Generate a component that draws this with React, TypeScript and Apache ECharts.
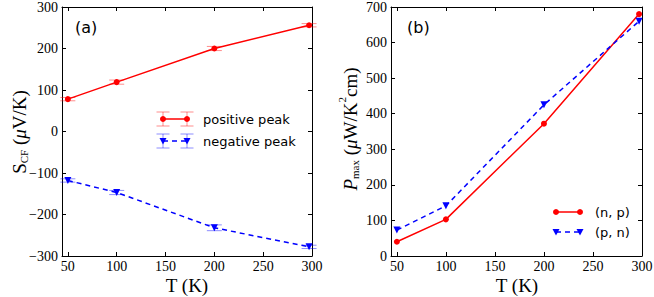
import React, { useEffect, useRef } from "react";
import * as echarts from "echarts";

const T = [50, 100, 200, 297];
const posPeak = [78, 119, 200, 256];
const posErr = [4, 5, 5, 4];
const negPeak = [-118, -147, -232, -278];
const negErr = [4, 5, 7, 4];
const pNP = [40, 103, 372, 680];
const pPN = [73, 141, 425, 660];
const xTicks = [50, 100, 150, 200, 250, 300];
const legendA = ["positive peak", "negative peak"];
const legendB = ["(n, p)", "(p, n)"];

const RED = "#ff0000";
const BLUE = "#0000ff";
const SERIF = "'Liberation Serif', serif";
const SANS = "'DejaVu Sans', sans-serif";

function minusFmt(v: number) {
  return v < 0 ? "\u2212" + Math.abs(v) : String(v);
}

function errSeries(vals: number[], errs: number[], color: string, xi: number, yi: number) {
  return {
    type: "custom",
    xAxisIndex: xi,
    yAxisIndex: yi,
    z: 1,
    silent: true,
    data: T.map((t, i) => [t, vals[i], errs[i]]),
    renderItem: (params: any, api: any) => {
      const x = api.value(0), y = api.value(1), e = api.value(2);
      const a = api.coord([x, y + e]);
      const b = api.coord([x, y - e]);
      const hw = 7.5;
      const style = { stroke: color, lineWidth: 1 };
      return {
        type: "group",
        children: [
          { type: "line", shape: { x1: a[0], y1: a[1], x2: b[0], y2: b[1] }, style },
          { type: "line", shape: { x1: a[0] - hw, y1: a[1], x2: a[0] + hw, y2: a[1] }, style },
          { type: "line", shape: { x1: b[0] - hw, y1: b[1], x2: b[0] + hw, y2: b[1] }, style },
        ],
      };
    },
  };
}

function xAxisCfg(gi: number, pos: "bottom" | "top") {
  return {
    type: "value",
    gridIndex: gi,
    position: pos,
    min: 44,
    max: 300,
    axisLine: { show: true, onZero: false, lineStyle: { color: "#000", width: 1 } },
    axisTick: { show: true, inside: true, length: 4, customValues: xTicks, lineStyle: { color: "#000" } },
    axisLabel: {
      show: pos === "bottom",
      customValues: xTicks,
      margin: 3,
      fontFamily: SERIF,
      fontSize: 14,
      color: "#000",
    },
    splitLine: { show: false },
  };
}

function yAxisCfg(gi: number, pos: "left" | "right", min: number, max: number) {
  return {
    type: "value",
    gridIndex: gi,
    position: pos,
    min,
    max,
    interval: 100,
    axisLine: { show: true, onZero: false, lineStyle: { color: "#000", width: 1 } },
    axisTick: { show: true, inside: true, length: 4, lineStyle: { color: "#000" } },
    axisLabel: {
      show: pos === "left",
      margin: 4,
      fontFamily: SERIF,
      fontSize: 14,
      color: "#000",
      formatter: minusFmt,
    },
    splitLine: { show: false },
  };
}

function tri(x: number, y: number, color: string) {
  return {
    type: "polygon",
    shape: { points: [[x - 3.5, y - 3], [x + 3.5, y - 3], [x, y + 3.5]] },
    style: { fill: color },
  };
}

function legendGraphics() {
  const g: any[] = [];
  const errStyleR = { stroke: "rgba(255,0,0,0.45)", lineWidth: 1 };
  const errStyleB = { stroke: "rgba(0,0,255,0.45)", lineWidth: 1 };
  // (a) legend
  const rows = [
    { y: 119, color: RED, es: errStyleR, dash: null as any, marker: "circle" },
    { y: 141, color: BLUE, es: errStyleB, dash: [5, 4], marker: "tri" },
  ];
  rows.forEach((r, i) => {
    [163, 187].forEach((x) => {
      g.push({ type: "line", shape: { x1: x, y1: r.y - 7, x2: x, y2: r.y + 7 }, style: r.es });
      g.push({ type: "line", shape: { x1: x - 6.5, y1: r.y - 7, x2: x + 6.5, y2: r.y - 7 }, style: r.es });
      g.push({ type: "line", shape: { x1: x - 6.5, y1: r.y + 7, x2: x + 6.5, y2: r.y + 7 }, style: r.es });
    });
    g.push({
      type: "line",
      shape: { x1: 163, y1: r.y, x2: 187, y2: r.y },
      style: { stroke: r.color, lineWidth: 1.5, lineDash: r.dash || undefined },
    });
    [163, 187].forEach((x) => {
      if (r.marker === "circle") g.push({ type: "circle", shape: { cx: x, cy: r.y, r: 3 }, style: { fill: r.color } });
      else g.push(tri(x, r.y, r.color));
    });
    g.push({
      type: "text",
      x: 203,
      y: r.y,
      style: { text: legendA[i], fontFamily: SANS, fontSize: 13, fill: "#000", align: "left", verticalAlign: "middle" },
    });
  });
  // (b) legend
  const rowsB = [
    { y: 212, color: RED, dash: null as any, marker: "circle" },
    { y: 232, color: BLUE, dash: [5, 4], marker: "tri" },
  ];
  rowsB.forEach((r, i) => {
    g.push({
      type: "line",
      shape: { x1: 556, y1: r.y, x2: 580, y2: r.y },
      style: { stroke: r.color, lineWidth: 1.5, lineDash: r.dash || undefined },
    });
    [556, 580].forEach((x) => {
      if (r.marker === "circle") g.push({ type: "circle", shape: { cx: x, cy: r.y, r: 3 }, style: { fill: r.color } });
      else g.push(tri(x, r.y, r.color));
    });
    g.push({
      type: "text",
      x: 595,
      y: r.y,
      style: { text: legendB[i], fontFamily: SANS, fontSize: 13, fill: "#000", align: "left", verticalAlign: "middle" },
    });
  });
  // panel labels
  g.push({ type: "text", x: 75, y: 27, style: { text: "(a)", fontFamily: SANS, fontSize: 16, fill: "#000", verticalAlign: "middle" } });
  g.push({ type: "text", x: 407, y: 27, style: { text: "(b)", fontFamily: SANS, fontSize: 16, fill: "#000", verticalAlign: "middle" } });
  // axis titles
  const tStyle = { fontFamily: SERIF, fontSize: 19, fill: "#000", align: "center", verticalAlign: "middle" };
  g.push({ type: "text", x: 187, y: 285, style: { ...tStyle, text: "T (K)" } });
  g.push({ type: "text", x: 517, y: 285, style: { ...tStyle, text: "T (K)" } });
  const rich = {
    n: { fontFamily: SERIF, fontSize: 19, lineHeight: 24, verticalAlign: "bottom", fill: "#000" },
    i: { fontFamily: SERIF, fontSize: 19, fontStyle: "italic", lineHeight: 24, verticalAlign: "bottom", fill: "#000" },
    sub: { fontFamily: SERIF, fontSize: 11, lineHeight: 20, verticalAlign: "bottom", fill: "#000" },
    sup: { fontFamily: SERIF, fontSize: 11, lineHeight: 24, verticalAlign: "top", fill: "#000" },
  };
  g.push({
    type: "text",
    x: 17,
    y: 132,
    rotation: Math.PI / 2,
    style: { text: "{n|S}{sub|CF}{n| (}{i|\u03bc}{n|V/K)}", rich, align: "center", verticalAlign: "middle" },
  });
  g.push({
    type: "text",
    x: 348,
    y: 129,
    rotation: Math.PI / 2,
    style: { text: "{i|P}{sub|max}{n| (}{i|\u03bc}{n|W/K}{sup|2}{n|cm)}", rich, align: "center", verticalAlign: "middle" },
  });
  return g;
}

export default function App() {
  const ref = useRef<HTMLDivElement>(null);
  useEffect(() => {
    if (!ref.current) return;
    const chart = echarts.init(ref.current, null, { renderer: "svg" });
    const option: any = {
      animation: false,
      backgroundColor: "#fff",
      grid: [
        { left: 62, top: 7, width: 250, height: 249, containLabel: false, outerBoundsMode: "none" },
        { left: 391, top: 7, width: 251, height: 249, containLabel: false, outerBoundsMode: "none" },
      ],
      xAxis: [xAxisCfg(0, "bottom"), xAxisCfg(0, "top"), xAxisCfg(1, "bottom"), xAxisCfg(1, "top")],
      yAxis: [
        yAxisCfg(0, "left", -300, 300),
        yAxisCfg(0, "right", -300, 300),
        yAxisCfg(1, "left", 0, 700),
        yAxisCfg(1, "right", 0, 700),
      ],
      series: [
        errSeries(posPeak, posErr, "rgba(255,0,0,0.45)", 0, 0),
        errSeries(negPeak, negErr, "rgba(0,0,255,0.45)", 0, 0),
        {
          type: "line",
          xAxisIndex: 0,
          yAxisIndex: 0,
          z: 3,
          data: T.map((t, i) => [t, posPeak[i]]),
          symbol: "circle",
          symbolSize: 6,
          itemStyle: { color: RED },
          lineStyle: { color: RED, width: 1.5 },
        },
        {
          type: "line",
          xAxisIndex: 0,
          yAxisIndex: 0,
          z: 3,
          data: T.map((t, i) => [t, negPeak[i]]),
          symbol: "triangle",
          symbolRotate: 180,
          symbolSize: 7,
          itemStyle: { color: BLUE },
          lineStyle: { color: BLUE, width: 1.5, type: [5, 4] },
        },
        {
          type: "line",
          xAxisIndex: 2,
          yAxisIndex: 2,
          z: 3,
          data: T.map((t, i) => [t, pNP[i]]),
          symbol: "circle",
          symbolSize: 6,
          itemStyle: { color: RED },
          lineStyle: { color: RED, width: 1.5 },
        },
        {
          type: "line",
          xAxisIndex: 2,
          yAxisIndex: 2,
          z: 3,
          data: T.map((t, i) => [t, pPN[i]]),
          symbol: "triangle",
          symbolRotate: 180,
          symbolSize: 7,
          itemStyle: { color: BLUE },
          lineStyle: { color: BLUE, width: 1.5, type: [5, 4] },
        },
      ],
      graphic: legendGraphics(),
    };
    chart.setOption(option);
    return () => chart.dispose();
  }, []);
  return (
    <div
      ref={ref}
      style={{ position: "absolute", left: 0, top: 0, width: 654, height: 297, background: "#fff" }}
    />
  );
}
